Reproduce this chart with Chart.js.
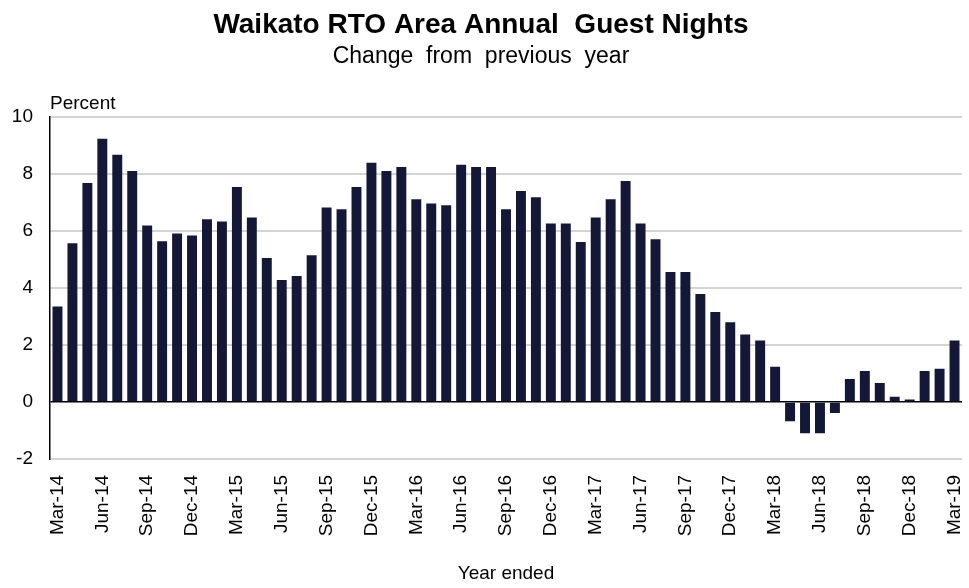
<!DOCTYPE html>
<html>
<head>
<meta charset="utf-8">
<script src="https://cdn.jsdelivr.net/npm/chart.js@4"></script>
<style>
  body { margin: 0; background: #fff; }
  #wrap { width: 969px; height: 588px; }
</style>
</head>
<body>
<div id="wrap"><canvas id="myChart" width="969" height="588"></canvas></div>
<script>
// year ended, monthly Mar-14 .. Mar-19
const months = ['Mar','Apr','May','Jun','Jul','Aug','Sep','Oct','Nov','Dec','Jan','Feb']
const labels = []
for (let i = 0; i < 61; i++) {
  const yr = 14 + Math.floor((i + 2) / 12)
  labels.push(months[i % 12] + '-' + yr)
}

const change = [
  3.35, 5.57, 7.69, 9.24, 8.68, 8.11, 6.20, 5.64, 5.92, 5.85, 6.42, 6.34,
  7.55, 6.48, 5.06, 4.28, 4.42, 5.15, 6.83, 6.77, 7.55, 8.40, 8.11, 8.25,
  7.12, 6.97, 6.91, 8.33, 8.25, 8.25, 6.77, 7.41, 7.19, 6.27, 6.27, 5.62,
  6.48, 7.12, 7.76, 6.27, 5.71, 4.56, 4.56, 3.79, 3.16, 2.80, 2.37, 2.16,
  1.24, -0.68, -1.10, -1.10, -0.39, 0.81, 1.09, 0.67, 0.18, 0.09, 1.09, 1.17,
  2.16
]

const yTicks = [-2, 0, 2, 4, 6, 8, 10]

const fontFam = '"Liberation Sans", Arial, sans-serif'

// "Percent" label above the y axis
const unitLabel = {
  id: 'unitLabel',
  afterDraw(chart) {
    const c = chart.ctx
    c.save()
    c.font = '19px ' + fontFam
    c.fillStyle = '#000'
    c.textBaseline = 'bottom'
    c.textAlign = 'left'
    c.fillText('Percent', chart.chartArea.left, chart.chartArea.top - 4)
    c.restore()
  }
}

const ctx = document.getElementById('myChart')

new Chart(ctx, {
  type: 'bar',
  data: {
    labels: labels,
    datasets: [{
      label: 'Annual guest nights change',
      data: change,
      backgroundColor: '#141838',
      borderWidth: 0,
      categoryPercentage: 0.7,
      barPercentage: 0.95
    }]
  },
  options: {
    responsive: false,
    animation: false,
    layout: { padding: { left: 0, right: 7, bottom: 3 } },
    plugins: {
      legend: { display: false },
      tooltip: { enabled: false },
      title: {
        display: true,
        text: 'Waikato RTO Area Annual  Guest Nights',
        color: '#000',
        font: { family: fontFam, size: 28, weight: 'bold' },
        padding: { top: 8, bottom: 1 }
      },
      subtitle: {
        display: true,
        text: 'Change  from  previous  year',
        color: '#000',
        font: { family: fontFam, size: 23 },
        padding: { top: 0, bottom: 47 }
      }
    },
    scales: {
      x: {
        afterFit(scale) { scale.paddingLeft = 0; scale.paddingRight = 0 },
        grid: { display: false },
        border: { display: false },
        ticks: {
          autoSkip: false,
          maxRotation: 90,
          minRotation: 90,
          padding: 8,
          color: '#000',
          font: { family: fontFam, size: 19 },
          callback: function(v, i) { return i % 3 === 0 ? labels[i] : '' }
        },
        title: {
          display: true,
          text: 'Year ended',
          color: '#000',
          font: { family: fontFam, size: 19 },
          padding: { top: 18, bottom: 0 }
        }
      },
      y: {
        min: -2,
        max: 10,
        afterFit(scale) { scale.width = 50 },
        afterBuildTicks(scale) { scale.ticks = yTicks.map(v => ({ value: v })) },
        grid: {
          drawTicks: false,
          color: c => c.tick && c.tick.value === 0 ? '#000' : '#d4d4d4',
          lineWidth: c => c.tick && c.tick.value === 0 ? 1.5 : 2
        },
        border: { display: true, color: '#000', width: 1.5 },
        ticks: {
          padding: 17,
          color: '#000',
          font: { family: fontFam, size: 19 }
        }
      }
    }
  },
  plugins: [unitLabel]
})
</script>
</body>
</html>
